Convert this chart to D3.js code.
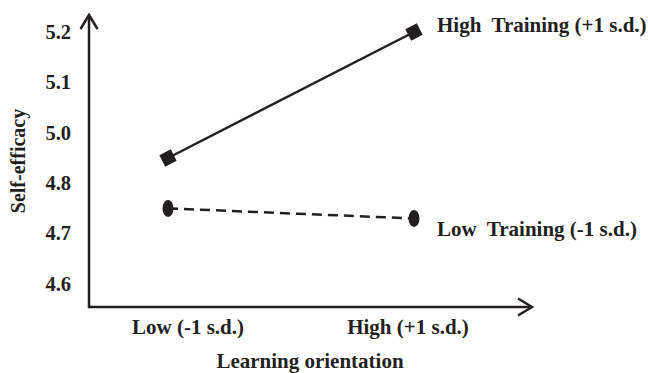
<!DOCTYPE html>
<html>
<head>
<meta charset="utf-8">
<script src="https://cdn.jsdelivr.net/npm/d3@7"></script>
<style>
  body { margin: 0; background: #fff; }
  text { font-family: "Liberation Serif", "Times New Roman", serif; font-weight: bold; fill: #231f20; }
</style>
</head>
<body>
<script>
// data
var categories = ["Low (-1 s.d.)", "High (+1 s.d.)"];
var seriesNames = ["High  Training (+1 s.d.)", "Low  Training (-1 s.d.)"];
var highTraining = [4.9, 5.2];
var lowTraining = [4.75, 4.73];
// tick labels as printed (4.9 is missing in the original)
var yTicks = [4.6, 4.7, 4.8, 5.0, 5.1, 5.2];
var yTickLabels = ["4.6", "4.7", "4.8", "5.0", "5.1", "5.2"];

var width = 648, height = 373;
var ink = "#231f20";
var axisX = 89, axisY = 307;

var svg = d3.select("body").append("svg")
    .attr("width", width)
    .attr("height", height);

var xScale = d3.scalePoint()
    .domain(categories)
    .range([168, 414]);

// printed ticks are evenly spaced, so the scale is piecewise
var yScale = d3.scaleLinear()
    .domain(yTicks)
    .range(yTicks.map(function(d, i) { return 284 - i * 50.4; }));

// axes with open arrowheads
var axes = svg.append("g")
    .attr("fill", "none")
    .attr("stroke", ink)
    .attr("stroke-width", 2.5);

axes.append("path")
    .attr("d", "M" + axisX + ",16V" + axisY + "H531");
axes.append("path")
    .attr("stroke-linejoin", "miter")
    .attr("d", "M" + (axisX - 8.5) + ",29L" + axisX + ",15L" + (axisX + 8.5) + ",29");
axes.append("path")
    .attr("stroke-linejoin", "miter")
    .attr("d", "M518," + (axisY - 8.5) + "L532," + axisY + "L518," + (axisY + 8.5));

// y tick labels
svg.append("g").selectAll("text")
    .data(yTicks)
    .enter().append("text")
    .attr("x", 71)
    .attr("y", function(d) { return yScale(d); })
    .attr("dy", "0.33em")
    .attr("text-anchor", "end")
    .attr("font-size", 20.5)
    .text(function(d, i) { return yTickLabels[i]; });

// x category labels
var xLabelShift = [20, -6];
svg.append("g").selectAll("text")
    .data(categories)
    .enter().append("text")
    .attr("x", function(d, i) { return xScale(d) + xLabelShift[i]; })
    .attr("y", 334)
    .attr("text-anchor", "middle")
    .attr("font-size", 21)
    .text(function(d) { return d; });

// axis titles
svg.append("text")
    .attr("x", 310)
    .attr("y", 368)
    .attr("text-anchor", "middle")
    .attr("font-size", 21)
    .text("Learning orientation");

svg.append("text")
    .attr("transform", "translate(25,161) rotate(-90)")
    .attr("text-anchor", "middle")
    .attr("font-size", 20)
    .text("Self-efficacy");

var line = d3.line()
    .x(function(d, i) { return xScale(categories[i]); })
    .y(function(d) { return yScale(d); });

// high training: solid line, square markers
svg.append("path")
    .datum(highTraining)
    .attr("d", line)
    .attr("fill", "none")
    .attr("stroke", ink)
    .attr("stroke-width", 2.5);

var angle = Math.atan2(yScale(highTraining[1]) - yScale(highTraining[0]),
    xScale(categories[1]) - xScale(categories[0])) * 180 / Math.PI;

svg.append("g").selectAll("path")
    .data(highTraining)
    .enter().append("path")
    .attr("d", d3.symbol().type(d3.symbolSquare).size(165))
    .attr("transform", function(d, i) {
        return "translate(" + xScale(categories[i]) + "," + yScale(d) + ") rotate(" + angle + ")";
    })
    .attr("fill", ink);

// low training: dashed line, oval markers
svg.append("path")
    .datum(lowTraining)
    .attr("d", line)
    .attr("fill", "none")
    .attr("stroke", ink)
    .attr("stroke-width", 2.5)
    .attr("stroke-dasharray", "10,6");

svg.append("g").selectAll("ellipse")
    .data(lowTraining)
    .enter().append("ellipse")
    .attr("cx", function(d, i) { return xScale(categories[i]); })
    .attr("cy", function(d) { return yScale(d); })
    .attr("rx", 5.5)
    .attr("ry", 8.5)
    .attr("fill", ink);

// series labels next to the end points
var labelDy = [0, 18];
[highTraining, lowTraining].forEach(function(s, k) {
    svg.append("text")
        .attr("x", xScale(categories[1]) + 23)
        .attr("y", yScale(s[1]) + labelDy[k])
        .attr("font-size", 21)
        .style("white-space", "pre")
        .text(seriesNames[k]);
});
</script>
</body>
</html>
